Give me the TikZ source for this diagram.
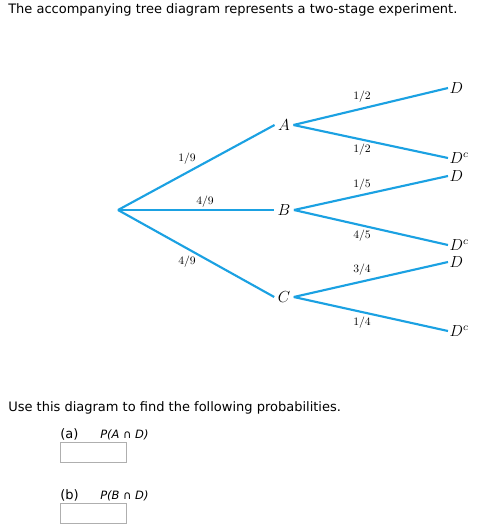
\documentclass[tikz,border=0pt]{standalone}
\usepackage{fontspec}
\newfontfamily\webfont{DejaVu Sans}
\definecolor{branchblue}{RGB}{27,161,226}
\definecolor{boxgrey}{RGB}{175,175,175}

\begin{document}
\begin{tikzpicture}[x=0.75pt,y=0.75pt,yscale=-1,xscale=1,
  branch/.style={draw=branchblue, line width=1.6},
  event/.style={inner sep=2.5pt, font=\fontsize{12}{14}\selectfont},
  leaf/.style={anchor=west, inner sep=1pt, font=\fontsize{12}{14}\selectfont},
  prob/.style={inner sep=0.75pt, font=\fontsize{8.5}{10}\selectfont},
  webtext/.style={anchor=base west, inner sep=0pt, font=\webfont\fontsize{9.75}{12}\selectfont},
  asktext/.style={anchor=base west, inner sep=0pt, font=\webfont\fontsize{8.6}{10}\selectfont},
  answerbox/.style={draw=boxgrey, fill=white, line width=0.75}]
%set diagram left start at 0, and has height of 529
\useasboundingbox (0,0) rectangle (480,529);

% Text Node
\node [webtext] (title) at (8,13) {The accompanying tree diagram represents a two-stage experiment.};

% Tree nodes
\coordinate (root) at (118,210);
\node [event] (A) at (284,125) {$A$};
\node [event] (B) at (284,210) {$B$};
\node [event] (C) at (284,297) {$C$};
\node [leaf] (AD) at (448,88) {$D$};
\node [leaf] (ADc) at (448,158) {$D^c$};
\node [leaf] (BD) at (448,176) {$D$};
\node [leaf] (BDc) at (448,245) {$D^c$};
\node [leaf] (CD) at (448,262) {$D$};
\node [leaf] (CDc) at (448,331) {$D^c$};

%Straight Lines
\draw [branch] (root) -- (A.west);
\draw [branch] (root) -- (B.west);
\draw [branch] (root) -- (C.west);
\draw [branch] (A.east) -- (AD.west);
\draw [branch] (A.east) -- (ADc.west);
\draw [branch] (B.east) -- (BD.west);
\draw [branch] (B.east) -- (BDc.west);
\draw [branch] (C.east) -- (CD.west);
\draw [branch] (C.east) -- (CDc.west);

% Probabilities
\node [prob] (pA) at (187,159) {1/9};
\node [prob] (pB) at (205,202) {4/9};
\node [prob] (pC) at (187,262) {4/9};
\node [prob] (pAD) at (362,97) {1/2};
\node [prob] (pADc) at (362,150) {1/2};
\node [prob] (pBD) at (362,185) {1/5};
\node [prob] (pBDc) at (362,236) {4/5};
\node [prob] (pCD) at (362,270) {3/4};
\node [prob] (pCDc) at (362,323) {1/4};

% Text Node
\node [webtext] (ask) at (8,411) {Use this diagram to find the following probabilities.};
\node [webtext] (parta) at (60,438) {(a)};
\node [asktext] (qa) at (100,438) {\itshape P(A ∩ D)};
\draw [answerbox] (60,442) rectangle (126,462);
\node [webtext] (partb) at (60,499) {(b)};
\node [asktext] (qb) at (100,499) {\itshape P(B ∩ D)};
\draw [answerbox] (60,503) rectangle (126,523);

\end{tikzpicture}
\end{document}
